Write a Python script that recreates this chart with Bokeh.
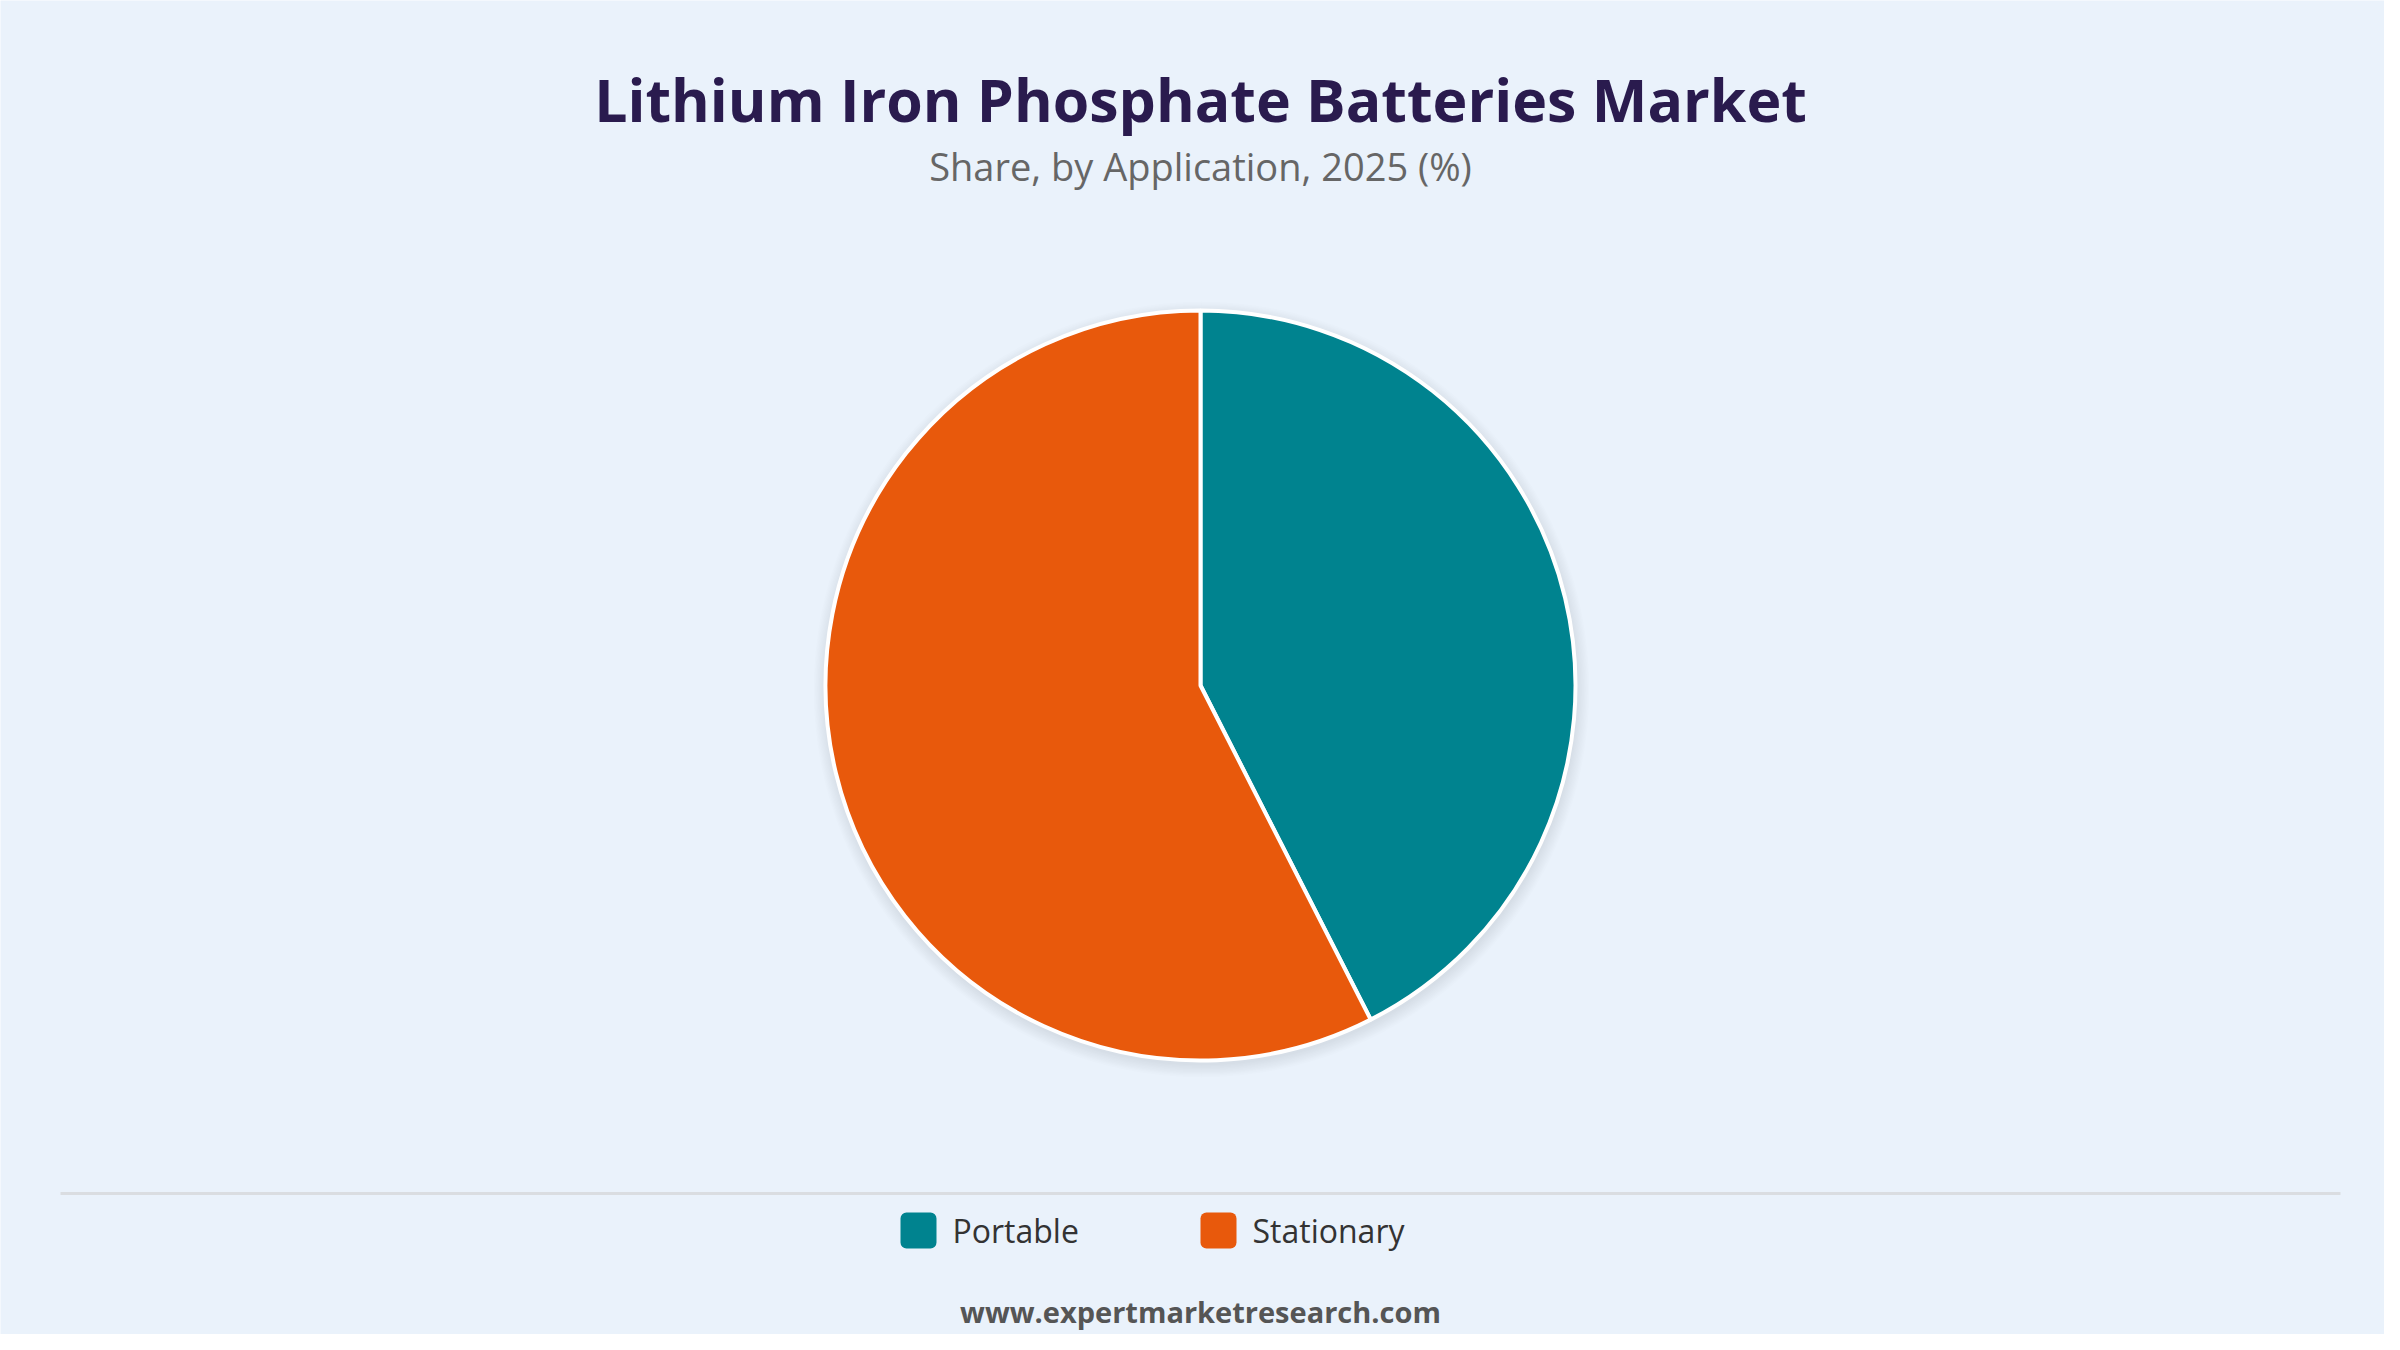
import math
from bokeh.plotting import figure
from bokeh.models import Range1d, BoxAnnotation
from bokeh.core.properties import value
from bokeh.embed import file_html
from bokeh.resources import INLINE

# ---- data ----
title = "Lithium Iron Phosphate Batteries Market"
subtitle = "Share, by Application, 2025 (%)"
categories = ["Portable", "Stationary"]
shares = [42.5, 57.5]
colors = ["#00838F", "#E8590C"]
footer = "www.expertmarketresearch.com"

BG = "#EAF2FB"
W, H = 2384, 1334


def sy(y):
    """image y (from top) -> data y"""
    return H - y


p = figure(width=W, height=H, output_backend="svg", toolbar_location=None,
           x_range=Range1d(0, W), y_range=Range1d(0, H),
           min_border=0)
p.axis.visible = False
p.grid.visible = False
p.outline_line_color = None
p.background_fill_color = BG
p.border_fill_color = BG

FONT = value("Open Sans")
cx, cy, R = 1200, sy(685), 375

# soft shadow
for i in range(10):
    p.circle(x=[cx + 1], y=[cy - 4], radius=R + 1 + i * 1.3,
             fill_color="#6E7E8E", fill_alpha=0.017, line_color=None)

# pie wedges (clockwise from 12 o'clock)
total = sum(shares)
start = math.pi / 2
starts, ends = [], []
for s in shares:
    ang = s / total * 2 * math.pi
    starts.append(start)
    ends.append(start - ang)
    start -= ang
p.wedge(x=[cx] * len(shares), y=[cy] * len(shares), radius=R,
        start_angle=starts, end_angle=ends, direction="clock",
        fill_color=colors, line_color="white", line_width=4)

# titles (text box centred; middle = baseline - 0.39em for Open Sans)
p.text(x=[1200], y=[sy(98)], text=[title], text_font=FONT, text_font_style="bold",
       text_font_size="59px", text_color="#2A1B4E", text_align="center",
       text_baseline="middle")
p.text(x=[1200], y=[sy(165)], text=[subtitle], text_font=FONT,
       text_font_size="38px", text_color="#666666", text_align="center",
       text_baseline="middle")

# separator
p.line(x=[60, 2340], y=[sy(1193), sy(1193)], line_color="#DADDE1", line_width=3)

# legend
leg_x = [900, 1200]
for lx, cat, col in zip(leg_x, categories, colors):
    p.add_layout(BoxAnnotation(left=lx, right=lx + 36, top=sy(1212), bottom=sy(1248),
                               fill_color=col, fill_alpha=1, line_color=None,
                               border_radius=6, level="overlay"))
p.text(x=[lx + 52 for lx in leg_x], y=[sy(1230)] * 2, text=categories, text_font=FONT,
       text_font_size="32px", text_color="#333333", text_align="left",
       text_baseline="middle")

# footer
p.text(x=[1200], y=[sy(1311)], text=[footer], text_font=FONT, text_font_style="bold",
       text_font_size="29px", text_color="#555555", text_align="center",
       text_baseline="middle")

html = file_html(p, INLINE)
html = html.replace("<body>", '<body style="background:%s">' % BG, 1)
open("out.html", "w").write(html)
